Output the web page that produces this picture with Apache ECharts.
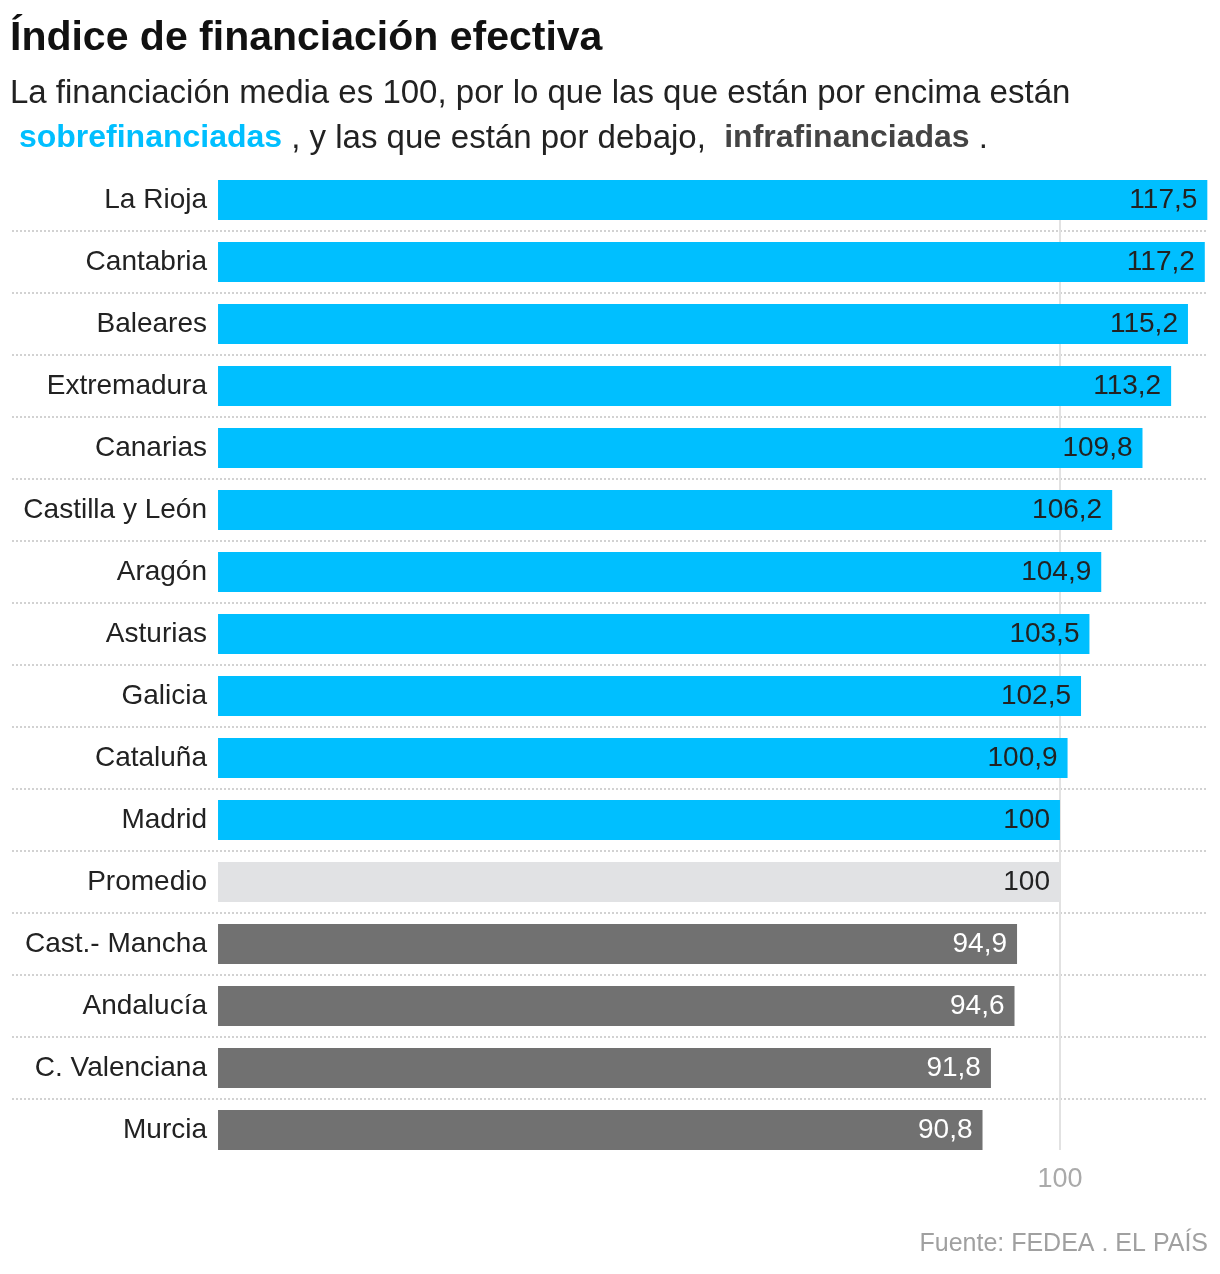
<!DOCTYPE html>
<html>
<head>
<meta charset="utf-8">
<title>Índice de financiación efectiva</title>
<script src="https://cdn.jsdelivr.net/npm/echarts@6/dist/echarts.min.js"></script>
<style>
  html, body { margin: 0; padding: 0; background: #fff; }
  #chart { width: 1220px; height: 1274px; }
</style>
</head>
<body>
<div id="chart"></div>
<script>
  // datos
  var regiones = ['La Rioja', 'Cantabria', 'Baleares', 'Extremadura', 'Canarias', 'Castilla y León',
    'Aragón', 'Asturias', 'Galicia', 'Cataluña', 'Madrid', 'Promedio', 'Cast.- Mancha',
    'Andalucía', 'C. Valenciana', 'Murcia'];
  var indice = [117.5, 117.2, 115.2, 113.2, 109.8, 106.2, 104.9, 103.5, 102.5, 100.9, 100, 100,
    94.9, 94.6, 91.8, 90.8];
  var grupo = ['sobre', 'sobre', 'sobre', 'sobre', 'sobre', 'sobre', 'sobre', 'sobre', 'sobre',
    'sobre', 'sobre', 'media', 'infra', 'infra', 'infra', 'infra'];
  var ejeTicks = [100];
  var media = 100;

  var FONT = '"Liberation Sans", Arial, sans-serif';
  var colores = { sobre: '#00bfff', media: '#e1e2e4', infra: '#717171' };
  var colorTexto = { sobre: '#222', media: '#222', infra: '#fff' };

  var chart = echarts.init(document.getElementById('chart'));

  var barData = indice.map(function (v, i) {
    return {
      value: v,
      itemStyle: { color: colores[grupo[i]] },
      label: { color: colorTexto[grupo[i]] }
    };
  });

  // separadores punteados solo entre filas
  var sepColors = [];
  for (var i = 0; i <= regiones.length; i++) {
    sepColors.push(i === 0 || i === regiones.length ? 'rgba(0,0,0,0)' : '#c4c4c4');
  }

  var option = {
    backgroundColor: '#fff',
    animation: false,
    title: [
      {
        text: 'Índice de financiación efectiva',
        left: 10,
        top: 18,
        padding: 0,
        textStyle: { fontFamily: FONT, fontWeight: 'bold', fontSize: 41, color: '#111' }
      },
      {
        text: 'La financiación media es 100, por lo que las que están por encima están\n' +
          '{b| sobrefinanciadas} , y las que están por debajo,  {g|infrafinanciadas} .',
        left: 10,
        top: 71,
        padding: 0,
        textStyle: {
          fontFamily: FONT, fontWeight: 'normal', fontSize: 33, lineHeight: 45, color: '#222',
          rich: {
            b: { fontFamily: FONT, fontWeight: 'bold', fontSize: 32, lineHeight: 45, color: '#00bfff' },
            g: { fontFamily: FONT, fontWeight: 'bold', fontSize: 32, lineHeight: 45, color: '#444' }
          }
        }
      },
      {
        text: 'Fuente: FEDEA . EL PAÍS',
        right: 12,
        top: 1232,
        padding: 0,
        textStyle: { fontFamily: FONT, fontWeight: 'normal', fontSize: 25, color: '#a0a0a0' }
      }
    ],
    grid: { left: 12, right: 12, top: 169, height: 992, containLabel: false },
    xAxis: {
      type: 'value',
      min: -24.47,
      max: 117.58,
      axisLine: { show: false },
      axisTick: { show: false },
      splitLine: { show: false },
      axisLabel: {
        customValues: ejeTicks,
        margin: 5,
        fontFamily: FONT,
        fontSize: 27,
        color: '#aaa'
      }
    },
    yAxis: {
      type: 'category',
      data: regiones,
      inverse: true,
      axisLine: { show: false },
      axisTick: { show: false },
      axisLabel: {
        inside: true,
        align: 'right',
        margin: 195,
        fontFamily: FONT,
        fontSize: 28,
        color: '#222'
      },
      splitLine: {
        show: true,
        lineStyle: { color: sepColors, width: 1.5, type: [2, 2] }
      }
    },
    series: [
      {
        type: 'custom',
        silent: true,
        z: 1,
        data: [[media, 0]],
        renderItem: function (params, api) {
          var top = api.coord([media, 0]);
          var bottom = api.coord([media, regiones.length - 1]);
          return {
            type: 'line',
            shape: { x1: top[0], y1: top[1] - 20, x2: bottom[0], y2: bottom[1] + 20 },
            style: { stroke: '#e2e2e2', lineWidth: 2 }
          };
        }
      },
      {
        type: 'bar',
        z: 2,
        barWidth: 40,
        data: barData,
        label: {
          show: true,
          position: 'insideRight',
          distance: 10,
          fontFamily: FONT,
          fontSize: 28,
          formatter: function (p) { return String(p.value).replace('.', ','); }
        }
      }
    ]
  };

  chart.setOption(option);
</script>
</body>
</html>
